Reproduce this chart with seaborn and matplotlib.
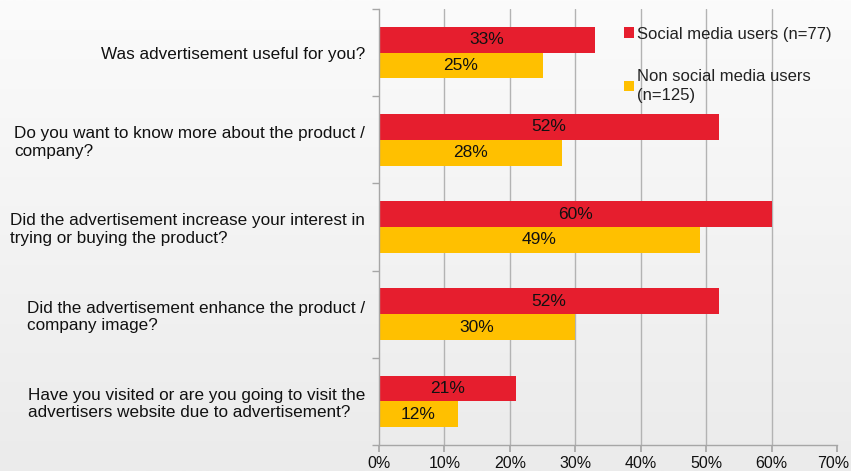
import matplotlib
matplotlib.use("Agg")
import matplotlib.pyplot as plt
import matplotlib.transforms as mtransforms
import seaborn as sns
import pandas as pd
import numpy as np
from matplotlib.ticker import FuncFormatter, FixedLocator

questions = [
    "Was advertisement useful for you?",
    "Do you want to know more about the product /\ncompany?",
    "Did the advertisement increase your interest in\ntrying or buying the product?",
    "Did the advertisement enhance the product /\ncompany image?",
    "Have you visited or are you going to visit the\nadvertisers website due to advertisement?",
]
series_names = ["Social media users (n=77)", "Non social media users\n(n=125)"]
social = [33, 52, 60, 52, 21]
non_social = [25, 28, 49, 30, 12]
x_ticks = [0, 10, 20, 30, 40, 50, 60, 70]

colors = ["#E61E2E", "#FFC000"]

df = pd.DataFrame({
    "question": questions * 2,
    "group": [series_names[0]] * len(questions) + [series_names[1]] * len(questions),
    "value": social + non_social,
})

sns.set_theme(style="white")
plt.rcParams["font.family"] = ["Liberation Sans", "DejaVu Sans"]

fig = plt.figure(figsize=(8.51, 4.71), dpi=100)
fig.patch.set_facecolor("#f0f0f0")

# soft background gradient (white at top, light grey at bottom)
bg = fig.add_axes([0, 0, 1, 1], zorder=-10)
grad = np.linspace(1.0, 0.0, 256).reshape(-1, 1)
bg.imshow(grad, aspect="auto", cmap=matplotlib.colors.LinearSegmentedColormap.from_list(
    "bg", ["#ebebeb", "#fbfbfb"]), extent=[0, 1, 0, 1], origin="upper")
bg.set_axis_off()

ax = fig.add_axes([379 / 851, 1 - 445 / 471, (837 - 379) / 851, (445 - 9) / 471])
ax.set_facecolor("none")

sns.barplot(data=df, y="question", x="value", hue="group", order=questions,
            hue_order=series_names, palette=colors, width=0.59, orient="h",
            ax=ax, saturation=1, edgecolor="none", linewidth=0)

for cont in ax.containers:
    ax.bar_label(cont, labels=[f"{v:.0f}%" for v in cont.datavalues],
                 label_type="center", fontsize=12.5, color="#111111")

ax.set_xlim(0, 70)
ax.set_ylim(len(questions) - 0.5, -0.5)
ax.xaxis.set_major_locator(FixedLocator(x_ticks))
ax.xaxis.set_major_formatter(FuncFormatter(lambda v, p: f"{v:.0f}%"))
for xv in x_ticks[1:-1]:
    ax.axvline(xv, color="#b3b3b3", linewidth=1, zorder=0)
ax.set_xlabel("")
ax.set_ylabel("")

for s in ["top", "right"]:
    ax.spines[s].set_visible(False)
for s in ["left", "bottom"]:
    ax.spines[s].set_visible(True)
    ax.spines[s].set_color("#a6a6a6")
    ax.spines[s].set_linewidth(1)

ax.tick_params(axis="x", which="major", bottom=True, length=5, color="#a6a6a6",
               labelsize=11.5, pad=3, labelcolor="#111111")
ax.set_yticks(range(len(questions)))
ax.set_yticklabels(questions, fontsize=12.3, color="#111111", ha="right",
                   multialignment="left")
ax.tick_params(axis="y", which="major", left=False, pad=4)
ax.yaxis.set_minor_locator(FixedLocator(np.arange(-0.5, len(questions), 1.0)))
ax.tick_params(axis="y", which="minor", left=True, length=5, color="#a6a6a6")

# nudge the last x tick label so it stays inside the figure
last = ax.get_xticklabels()[-1]
last.set_transform(last.get_transform() + mtransforms.ScaledTranslation(-4 / 100, 0, fig.dpi_scale_trans))

leg = ax.legend(loc="upper left", bbox_to_anchor=(0.52, 0.975), frameon=False,
                fontsize=12, handlelength=0.6, handleheight=0.6,
                handletextpad=0.2, labelspacing=1.65, borderaxespad=0)
for t in leg.get_texts():
    t.set_color("#222222")
    t.set_linespacing(1.3)

fig.savefig("out.png", dpi=100, facecolor=fig.get_facecolor())
